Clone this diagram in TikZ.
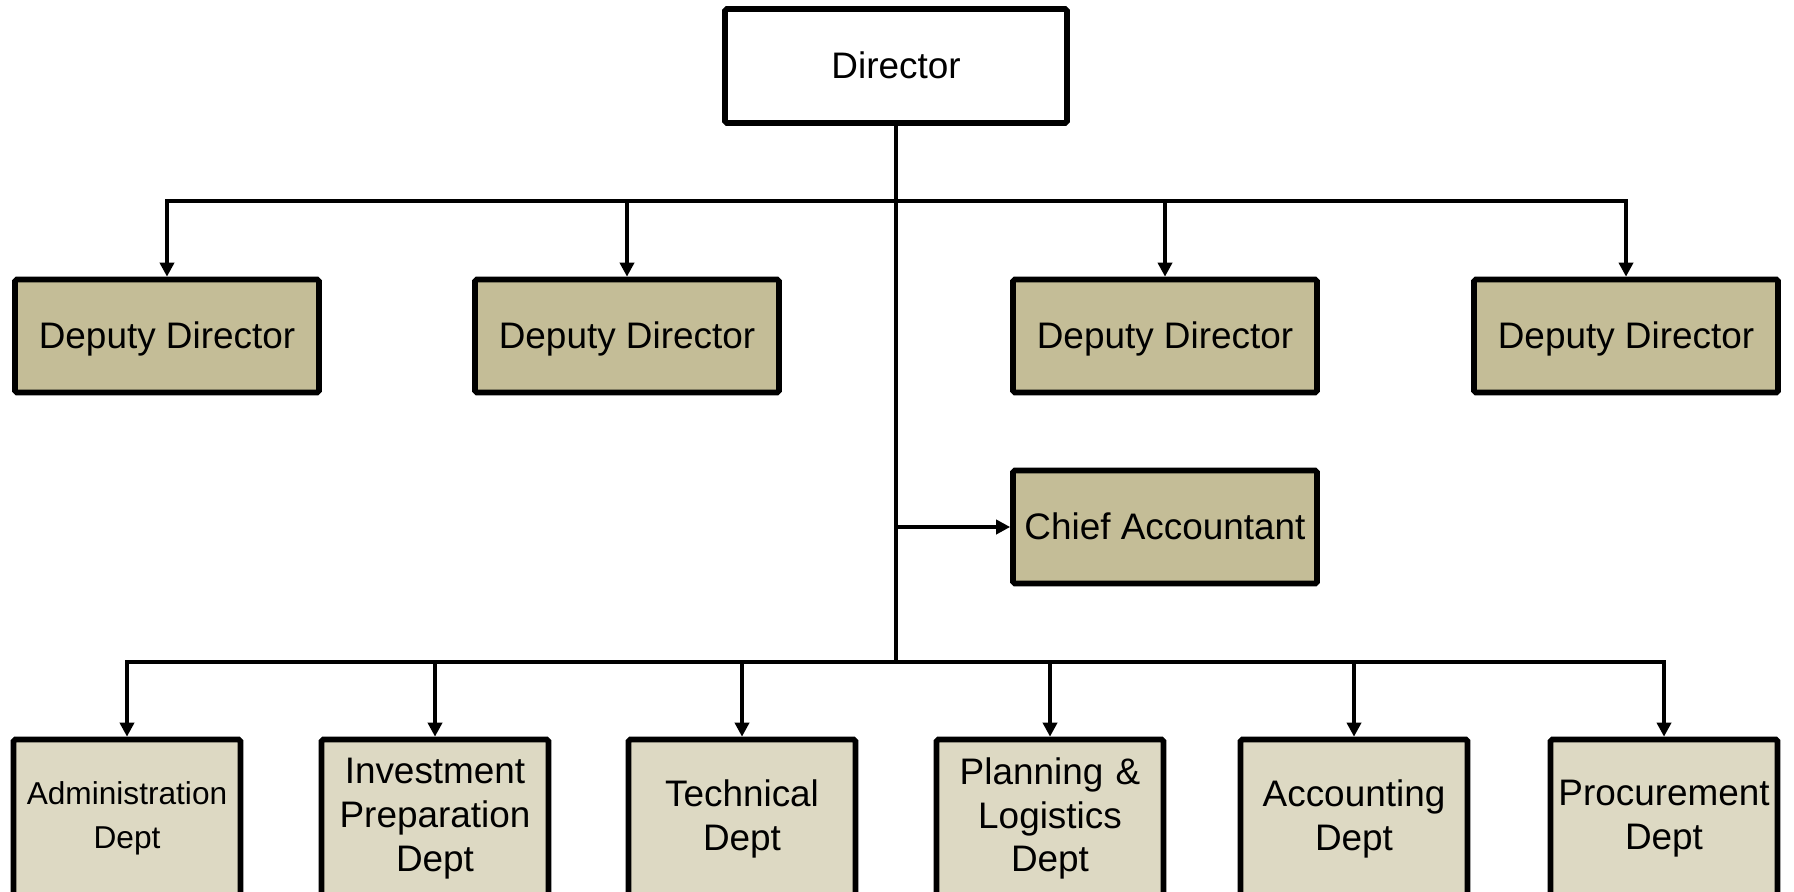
\documentclass[tikz,border=0pt]{standalone}
\usepackage{fontspec}
\setmainfont{Liberation Sans}
\usepackage{xcolor}
\usetikzlibrary{calc}
\usetikzlibrary{positioning}
\usetikzlibrary{arrows.meta}
\definecolor{tanfill}{HTML}{C4BD97}
\definecolor{lighttan}{HTML}{DDD9C3}

\begin{document}
\begin{tikzpicture}[x=0.2mm,y=-0.2mm,
		box/.style={draw,line width=3.2pt,rounded corners=1pt,align=center,inner sep=2pt,font=\fontsize{21}{25}\selectfont},
		oneline/.style={box,text height=19pt,text depth=4.5pt},
		deputy/.style={oneline,fill=tanfill,minimum width=6.08cm,minimum height=2.26cm},
		dept/.style={box,fill=lighttan,minimum width=4.52cm,minimum height=3.16cm,text width=4.4cm},
		link/.style={line width=2pt,-{Triangle[length=8pt,width=8pt]}}]
		  \useasboundingbox (0,0) rectangle (1794,892);
		  \node[oneline,fill=white,minimum width=6.84cm,minimum height=2.28cm] (dir) at (896,66) {Director};
		  \foreach \x /\alph in {167/dd1,627/dd2,1165/dd3,1626/dd4}{
		  	\node[deputy] (\alph) at (\x,336) {Deputy Director};
		  }
		  \node[deputy] (chief) at (1165,527) {Chief Accountant};
		  \foreach \x /\alph/\name in {
		  		127/dept1/\fontsize{18}{22}\selectfont Administration\\Dept,
		  		435/dept2/Investment\\Preparation\\Dept,
		  		742/dept3/Technical\\Dept,
		  		1050/dept4/Planning \&\\Logistics\\Dept,
		  		1354/dept5/Accounting\\Dept,
		  		1664/dept6/Procurement\\Dept
		  }{
		  	\node[dept] (\alph) at (\x,818.5) {\name};
		  }
		  % trunk
		  \coordinate (top) at (896,201);
		  \coordinate (bot) at (896,662);
		  \draw[line width=2pt] (dir.south) -- (bot);
		  \foreach \alph in {dd1,dd2,dd3,dd4}%
		  {%
		   \draw[link] (top) -| (\alph.north);%
		  }
		  \draw[link] (dir.south |- chief.west) -- (chief.west);
		  \foreach \alph in {dept1,dept2,dept3,dept4,dept5,dept6}%
		  {%
		   \draw[link] (bot) -| (\alph.north);%
		  }
\end{tikzpicture}
\end{document}
